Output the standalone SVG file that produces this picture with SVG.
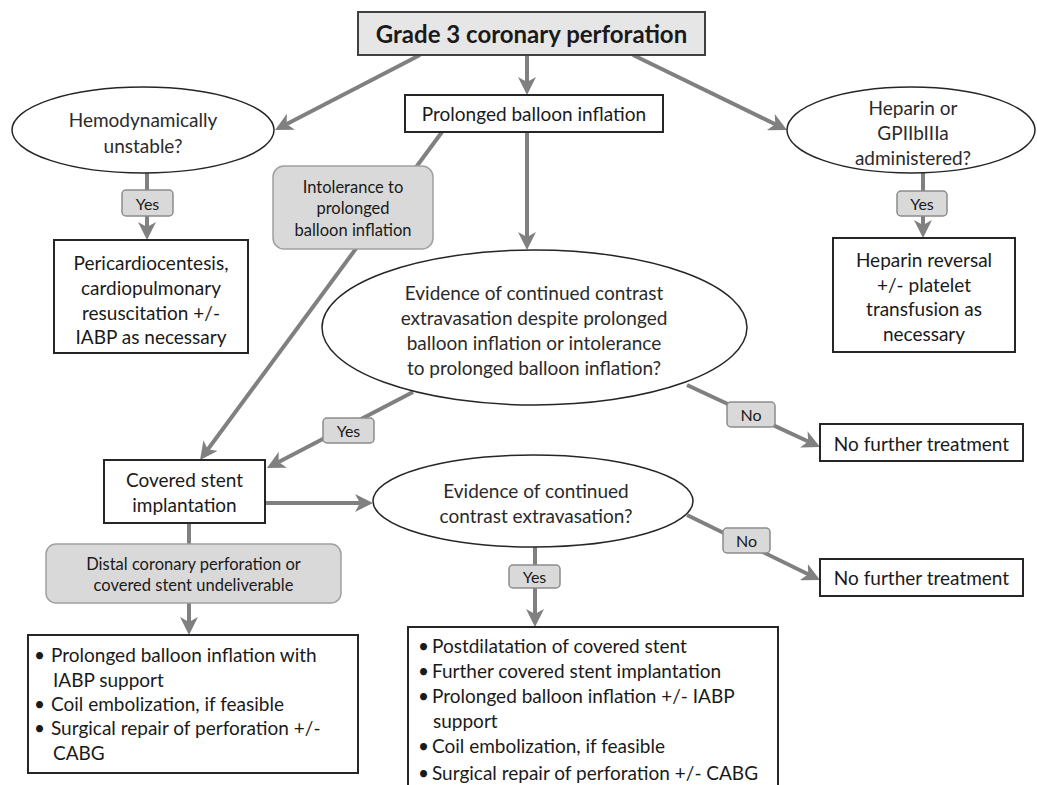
<svg xmlns="http://www.w3.org/2000/svg" width="1037" height="785" viewBox="0 0 1037 785">
<style>
  text { font-family: Lato, "Open Sans", "Liberation Sans", sans-serif; fill: #1a1a1a; text-anchor: middle; dominant-baseline: central; }
  .t19 { font-size: 19px; }
  .t18 { font-size: 18px; }
  .t16 { font-size: 16px; }
  .t165 { font-size: 16.5px; }
  .ttl { font-size: 24px; font-weight: bold; }
  .lst { font-size: 19px; text-anchor: start; }
  .ell text { fill: #2a2a2a; }
  .box { fill: #ffffff; stroke: #262626; stroke-width: 2; }
  .ellipse { fill: #ffffff; stroke: #262626; stroke-width: 1.5; }
  .cond { fill: #d9d9d9; stroke: #a0a0a0; stroke-width: 1.5; }
  .lbl { fill: #d9d9d9; stroke: #8c8c8c; stroke-width: 1.5; }
  .edge { fill: none; stroke: #808080; stroke-width: 4; }
  .arrow { marker-end: url(#arr); }
</style>
<defs>
  <marker id="arr" viewBox="0 0 18 18" markerWidth="18" markerHeight="18" refX="14" refY="9" orient="auto" markerUnits="userSpaceOnUse">
    <path d="M0,0 L18,9 L0,18 L5,9 z" fill="#808080"/>
  </marker>
</defs>
<rect width="1037" height="785" fill="#ffffff"/>

<g id="connectors">
  <path class="edge arrow" d="M420,55 L278.6,128.2"/>
  <path class="edge arrow" d="M527,55 L527,91"/>
  <path class="edge arrow" d="M633,55 L783.4,128.2"/>
  <path class="edge arrow" d="M147,173 L147,236"/>
  <path class="edge arrow" d="M923,173 L923,234"/>
  <path class="edge arrow" d="M527,132 L527,246"/>
  <path class="edge arrow" d="M442,132 L202.4,456.8"/>
  <path class="edge arrow" d="M413,392 L270.5,466.2"/>
  <path class="edge arrow" d="M687,385 L816.4,445.3"/>
  <path class="edge arrow" d="M265,503 L369,503"/>
  <path class="edge arrow" d="M189,523 L189,631"/>
  <path class="edge arrow" d="M535,547 L535,623"/>
  <path class="edge arrow" d="M687,515 L816.4,578.2"/>
</g>

<g id="edge-labels">
  <g id="lbl-yes-hemo"><rect class="lbl" x="122" y="190" width="51" height="26" rx="4"/><text class="t16" x="147.5" y="203">Yes</text></g>
  <g id="lbl-yes-hep"><rect class="lbl" x="897" y="191" width="50" height="25" rx="4"/><text class="t16" x="922" y="203.5">Yes</text></g>
  <g id="lbl-yes-ev1"><rect class="lbl" x="323" y="418" width="51" height="25" rx="4"/><text class="t16" x="348.5" y="430.5">Yes</text></g>
  <g id="lbl-no-ev1"><rect class="lbl" x="727" y="402" width="48" height="25" rx="4"/><text class="t16" x="751" y="414.5">No</text></g>
  <g id="lbl-yes-ev2"><rect class="lbl" x="509" y="565" width="51" height="23" rx="4"/><text class="t16" x="534.5" y="576.5">Yes</text></g>
  <g id="lbl-no-ev2"><rect class="lbl" x="723" y="528" width="47" height="25" rx="4"/><text class="t16" x="746.5" y="540.5">No</text></g>
</g>

<g id="n-grade3">
  <rect x="358" y="12" width="347" height="43" fill="#e6e6e6" stroke="#404040" stroke-width="2"/>
  <text class="ttl" x="531.5" y="33.5">Grade 3 coronary perforation</text>
</g>

<g id="n-prolonged">
  <rect class="box" x="405" y="95" width="258" height="37"/>
  <text class="t19" x="534" y="113">Prolonged balloon inflation</text>
</g>

<g id="n-hemo" class="ell">
  <ellipse class="ellipse" cx="143" cy="130" rx="131" ry="43"/>
  <text class="t19" x="143" y="119">Hemodynamically</text>
  <text class="t19" x="143" y="145">unstable?</text>
</g>

<g id="n-heparin-q" class="ell">
  <ellipse class="ellipse" cx="911" cy="130" rx="124" ry="43"/>
  <text class="t19" x="913" y="107">Heparin or</text>
  <text class="t19" x="913" y="132">GPIIbIIIa</text>
  <text class="t19" x="913" y="157">administered?</text>
</g>

<g id="n-pericardio">
  <rect class="box" x="54" y="240" width="194" height="113"/>
  <text class="t19" x="151" y="262">Pericardiocentesis,</text>
  <text class="t19" x="151" y="287">cardiopulmonary</text>
  <text class="t19" x="151" y="312">resuscitation +/-</text>
  <text class="t19" x="151" y="336">IABP as necessary</text>
</g>

<g id="n-intolerance">
  <rect class="cond" x="273" y="166" width="160" height="83" rx="11"/>
  <text class="t165" x="353" y="187">Intolerance to</text>
  <text class="t165" x="353" y="208">prolonged</text>
  <text class="t165" x="353" y="230">balloon inflation</text>
</g>

<g id="n-heparin-rev">
  <rect class="box" x="833" y="238" width="182" height="114"/>
  <text class="t19" x="924" y="259">Heparin reversal</text>
  <text class="t19" x="924" y="284">+/- platelet</text>
  <text class="t19" x="924" y="308">transfusion as</text>
  <text class="t19" x="924" y="333">necessary</text>
</g>

<g id="n-evidence1" class="ell">
  <ellipse class="ellipse" cx="534.5" cy="327.5" rx="212.5" ry="77.5"/>
  <text class="t19" x="534" y="292">Evidence of continued contrast</text>
  <text class="t19" x="534" y="317">extravasation despite prolonged</text>
  <text class="t19" x="534" y="342">balloon inflation  or intolerance</text>
  <text class="t19" x="534" y="367">to prolonged balloon inflation?</text>
</g>

<g id="n-nft1">
  <rect class="box" x="820" y="424" width="203" height="37"/>
  <text class="t19" x="921.5" y="443">No further treatment</text>
</g>

<g id="n-covered">
  <rect class="box" x="104" y="460" width="161" height="63"/>
  <text class="t19" x="184.5" y="479">Covered stent</text>
  <text class="t19" x="184.5" y="504">implantation</text>
</g>

<g id="n-evidence2" class="ell">
  <ellipse class="ellipse" cx="533" cy="501" rx="160" ry="46"/>
  <text class="t19" x="536" y="490">Evidence of continued</text>
  <text class="t19" x="536" y="515">contrast extravasation?</text>
</g>

<g id="n-nft2">
  <rect class="box" x="820" y="559" width="203" height="37"/>
  <text class="t19" x="921.5" y="577">No further treatment</text>
</g>

<g id="n-distal">
  <rect class="cond" x="46" y="544" width="295" height="59" rx="10"/>
  <text class="t165" x="193.5" y="564">Distal coronary perforation or</text>
  <text class="t165" x="193.5" y="585">covered stent undeliverable</text>
</g>

<g id="n-list-left">
  <rect class="box" x="28" y="635" width="330" height="138"/>
  <text class="lst" x="34" y="654">•</text><text class="lst" x="51" y="654">Prolonged balloon inflation with</text>
  <text class="lst" x="53" y="679">IABP support</text>
  <text class="lst" x="34" y="703">•</text><text class="lst" x="51" y="703">Coil embolization, if feasible</text>
  <text class="lst" x="34" y="727">•</text><text class="lst" x="51" y="727">Surgical repair of perforation +/-</text>
  <text class="lst" x="53" y="752">CABG</text>
</g>

<g id="n-list-mid">
  <rect class="box" x="408" y="627" width="370" height="170"/>
  <text class="lst" x="418" y="645">•</text><text class="lst" x="432" y="645">Postdilatation of covered stent</text>
  <text class="lst" x="418" y="670">•</text><text class="lst" x="432" y="670">Further covered stent implantation</text>
  <text class="lst" x="418" y="695">•</text><text class="lst" x="432" y="695">Prolonged balloon inflation +/- IABP</text>
  <text class="lst" x="433" y="720">support</text>
  <text class="lst" x="418" y="745">•</text><text class="lst" x="432" y="745">Coil embolization, if feasible</text>
  <text class="lst" x="418" y="772">•</text><text class="lst" x="432" y="772">Surgical repair of perforation +/- CABG</text>
</g>
</svg>
